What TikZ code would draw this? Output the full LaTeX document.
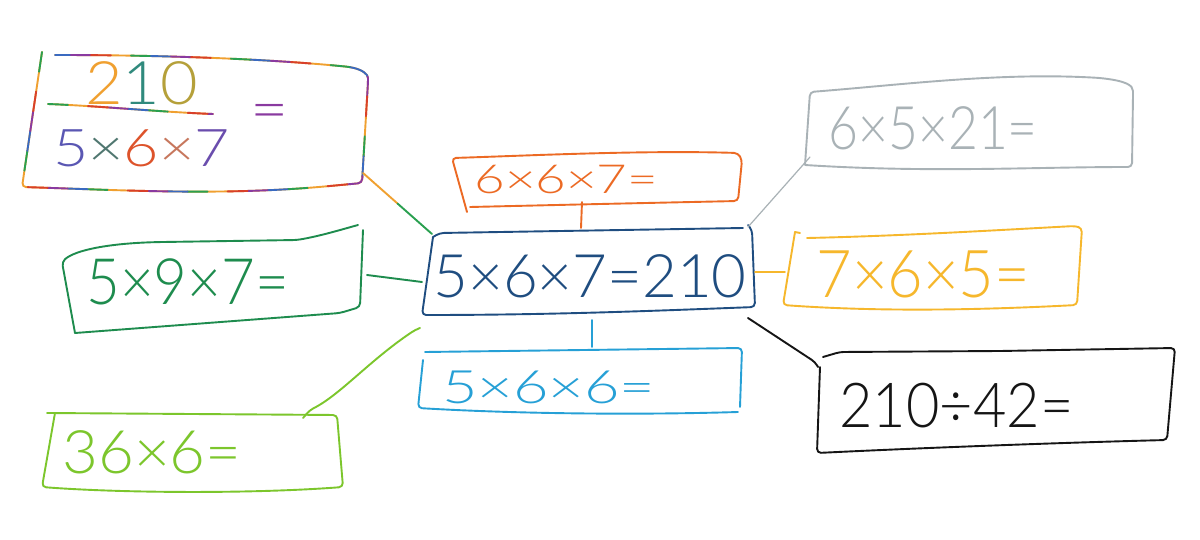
\documentclass[tikz,border=0pt]{standalone}
\usepackage{fontspec}
\usepackage{graphicx}
\usetikzlibrary{calc}
\IfFontExistsTF{Lato Light}{\newfontfamily\hand{Lato Light}}{\newfontfamily\hand{Lato}}
\newcommand\hw[3]{{\hand\fontsize{#1}{#1}\selectfont\scalebox{#2}[1]{#3}}}
\definecolor{cC}{HTML}{1F4D80}
\definecolor{cO}{HTML}{EC6A24}
\definecolor{cG}{HTML}{A9B2B6}
\definecolor{cGr}{HTML}{1E8C4E}
\definecolor{cY}{HTML}{F6B72C}
\definecolor{cB}{HTML}{26A0D6}
\definecolor{cL}{HTML}{7CC62C}
\definecolor{cK}{HTML}{151515}
\definecolor{r1}{HTML}{F0A030}
\definecolor{r2}{HTML}{2AA050}
\definecolor{r3}{HTML}{3A6AC0}
\definecolor{r4}{HTML}{8A3AA0}
\definecolor{r5}{HTML}{D8402A}
\newcommand\rbow[1]{%
  \draw[pen,r1] #1;
  \draw[pen,r2,dash pattern=on 10pt off 40pt,dash phase=0pt] #1;
  \draw[pen,r3,dash pattern=on 10pt off 40pt,dash phase=10pt] #1;
  \draw[pen,r4,dash pattern=on 10pt off 40pt,dash phase=20pt] #1;
  \draw[pen,r5,dash pattern=on 10pt off 40pt,dash phase=30pt] #1;}
\begin{document}
\begin{tikzpicture}[x=0.5pt,y=-0.5pt,
  pen/.style={line width=0.95pt,line cap=round,line join=round,rounded corners=2pt},
  lbl/.style={anchor=base west,inner sep=0pt}]
\useasboundingbox (0,0) rectangle (1200,540);
\fill[white] (0,0) rectangle (1200,540);

% ---------- boxes ----------
% rainbow
\rbow{(42,52) -- (22,187) .. controls (120,190) and (220,196) .. (330,186) -- (362,183) -- (368,82) .. controls (368,74) and (362,70) .. (350,67) .. controls (280,60) and (180,55) .. (55,55)}
% orange
\draw[pen,cO] (467,212) -- (452,158) .. controls (520,156) and (640,150) .. (738,153) -- (742,160) -- (738,201) -- (600,204) -- (470,207);
% grey
\draw[pen,cG] (805,165) -- (810,92) .. controls (900,85) and (1000,72) .. (1100,78) .. controls (1125,81) and (1133,85) .. (1133,95) -- (1132,167) .. controls (1030,167) and (930,173) .. (805,165);
% green
\draw[pen,cGr] (75,333) -- (62,262) .. controls (75,250) and (110,243) .. (163,242) -- (297,240) .. controls (320,236) and (340,230) .. (358,225);
\draw[pen,cGr] (363,230) -- (360,307) -- (340,313) -- (75,333);
% centre
\draw[pen,cC] (433,237) -- (440,233) -- (743,228);
\draw[pen,cC] (748,225) -- (752,230) -- (755,307) .. controls (650,311) and (550,315) .. (422,315) -- (433,237);
% yellow
\draw[pen,cY] (795,232) -- (800,233);
\draw[pen,cY] (807,238) .. controls (900,236) and (1000,230) .. (1075,226) -- (1082,228) -- (1077,305) .. controls (980,310) and (880,312) .. (783,305) -- (795,232);
% light blue
\draw[pen,cB] (425,352) -- (742,348) -- (740,407);
\draw[pen,cB] (738,412) .. controls (640,415) and (520,414) .. (418,408) -- (423,360);
% lime
\draw[pen,cL] (47,413) -- (337,415) -- (343,487) .. controls (250,494) and (120,493) .. (42,487) -- (55,413);
% black
\draw[pen,cK] (823,357) -- (840,352) -- (1000,351) -- (1175,348) -- (1167,440) .. controls (1050,443) and (920,448) .. (817,453) -- (820,367);

% ---------- texts ----------
\node[lbl,text=cC] (tC) at (433,297) {\hw{30pt}{1}{5×6×7=210}};
\node[lbl,text=cO] (tO) at (474,193) {\hw{20pt}{1.32}{6×6×7=}};
\node[lbl,text=cG] (tG) at (828,150) {\hw{30pt}{0.86}{6×5×21=}};
\node[lbl,text=cGr] (tGr) at (86,304) {\hw{32pt}{0.91}{5×9×7=}};
\node[lbl,text=cY] (tY) at (816,297) {\hw{33pt}{0.93}{7×6×5=}};
\node[lbl,text=cB] (tB) at (442,403) {\hw{23pt}{1.33}{5×6×6=}};
\node[lbl,text=cL] (tL) at (62,473) {\hw{30pt}{1.03}{36×6=}};
\node[lbl,text=cK] (tK) at (839,427) {\hw{31pt}{0.93}{210÷42=}};
\node[lbl] (tNum) at (85,105) {\hw{30pt}{1.08}{{\color{r1}2}{\color{r2!60!r3}1}{\color{r1!70!r2}0}}};
\node[lbl] (tDen) at (53,167) {\hw{26pt}{1.17}{{\color{r3!60!r4}5}{\color{r2!60!r4}×}{\color{r5!80!r1}6}{\color{r1!60!r4}×}{\color{r4!60!r3}7}}};
\node[inner sep=0pt,text=r4] (tEq) at (270,117) {\hw{30pt}{1.1}{=}};
\rbow{(48,104) .. controls (100,106) and (160,112) .. (213,114)}

% ---------- connectors ----------
\coordinate (cR1) at (363,173); \coordinate (cR2) at (432,234);
\coordinate (cO1) at (581,228); \coordinate (cO2) at (582,202);
\coordinate (cG1) at (810,157); \coordinate (cG2) at (748,227);
\coordinate (cGr1) at (367,275); \coordinate (cGr2) at (422,282);
\coordinate (cY1) at (755,272); \coordinate (cY2) at (785,272);
\coordinate (cB1) at (592,347); \coordinate (cB2) at (592,320);
\coordinate (cL1) at (420,328); \coordinate (cL2) at (303,418);
\coordinate (cK1) at (748,318); \coordinate (cK2) at (818,367);

\draw[pen,r1] (cR1) -- ($(cR1)!0.5!(cR2)$);
\draw[pen,r2] ($(cR1)!0.5!(cR2)$) -- (cR2);
\draw[pen,cO] (cO1) -- (cO2);
\draw[pen,cG,line width=0.6pt] (cG1) -- (cG2);
\draw[pen,cGr] (cGr1) -- (cGr2);
\draw[pen,cY] (cY1) -- (cY2);
\draw[pen,cB] (cB1) -- (cB2);
\draw[pen,cL] (cL1) -- (415,330) .. controls (370,360) and (340,395) .. (310,410) -- (cL2);
\draw[pen,cK] (cK1) -- (815,362) -- (cK2);
\end{tikzpicture}
\end{document}
